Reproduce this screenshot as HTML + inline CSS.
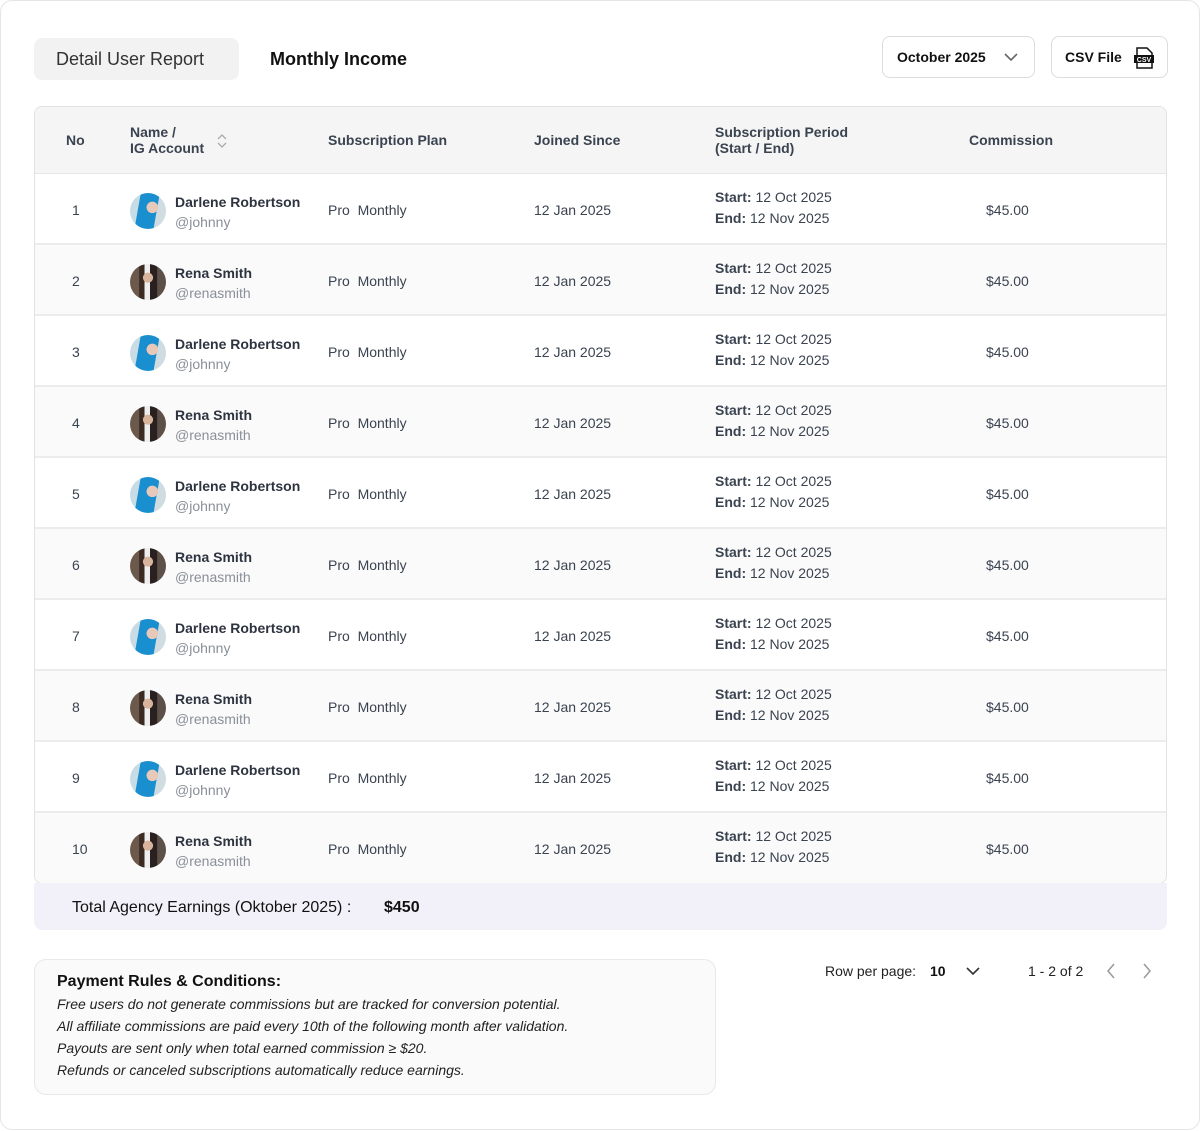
<!DOCTYPE html>
<html><head><meta charset="utf-8"><style>
*{margin:0;padding:0;box-sizing:border-box}
body{width:1200px;height:1131px;background:#fff;font-family:"Liberation Sans",sans-serif;color:#3a4350;position:relative;overflow:hidden}
.abs{position:absolute}
.outer{left:0;top:0;width:1200px;height:1130px;border:1px solid #e6e6e6;border-radius:12px}
.tab1{left:34px;top:38px;width:205px;height:42px;background:#f2f2f2;border-radius:8px;font-size:18px;color:#333;line-height:42px;padding-left:22px;font-weight:500}
.tab2{left:270px;top:38px;line-height:42px;font-size:18px;font-weight:bold;color:#111}
.btn{top:36px;height:42px;border:1px solid #dcdcdc;border-radius:8px;font-size:14px;font-weight:bold;color:#111;line-height:40px}
.card{left:34px;top:106px;width:1133px;height:778px;border:1px solid #e2e2e2;border-radius:8px;overflow:hidden}
.head{position:absolute;left:0;top:0;width:100%;height:67px;background:#f5f5f5;border-bottom:1px solid #e6e6e6;font-size:14px;font-weight:bold;color:#3a4350}
.row{position:absolute;left:0;width:100%;height:71px;border-bottom:2px solid #ececec;font-size:14px;color:#3a4350}
.row.g{background:#fafafa}
.c{position:absolute}
.p{position:absolute;left:680px;top:13px;line-height:21px}
.av{position:absolute;left:95px;top:19px;width:36px;height:36px;border-radius:50%}
.a1{background:radial-gradient(circle at 62% 40%,#e8c8b8 0 18%,transparent 19%),linear-gradient(100deg,#c8dce6 0 25%,#1a8fd0 26% 70%,#cfdde3 71%)}
.a2{background:radial-gradient(circle at 50% 38%,#d8b49c 0 17%,transparent 18%),linear-gradient(90deg,#6b5a4c 0 25%,#3a2a22 26% 40%,#eee 41% 55%,#2a2020 56% 75%,#5c5048 76%)}
.nm{position:absolute;left:140px;top:20px;font-weight:bold;color:#2d3440;font-size:14px}
.hd{position:absolute;left:140px;top:40px;color:#8a8f98;font-size:14px}
.total{left:34px;top:883px;width:1133px;height:47px;background:#f2f1fa;border-radius:0 0 8px 8px;font-size:16px;color:#111;line-height:49px;padding-left:38px}
.rules{left:34px;top:959px;width:682px;height:136px;background:#fafafa;border:1px solid #e8e8e8;border-radius:12px;padding:13px 22px}
.rules h4{font-size:16px;color:#111;margin-bottom:2px}
.rules p{font-size:14px;font-style:italic;color:#222;line-height:22px}
</style></head><body>
<div class="abs outer"></div>
<div class="abs tab1">Detail User Report</div>
<div class="abs tab2">Monthly Income</div>
<div class="abs btn" style="left:882px;width:153px;padding-left:14px">October 2025
<svg class="abs" style="left:121px;top:15px" width="14" height="10"><path d="M1 2l6 6 6-6" fill="none" stroke="#666" stroke-width="1.6"/></svg></div>
<div class="abs btn" style="left:1051px;width:117px;padding-left:13px">CSV File
<svg class="abs" style="left:81px;top:10px" width="22" height="22"><path d="M4 1h10l5 5v15H4z" fill="#fff" stroke="#111" stroke-width="1.5"/><rect x="1" y="8" width="20" height="8" fill="#111"/><text x="11" y="15" font-size="7" font-weight="bold" fill="#fff" text-anchor="middle" font-family="Liberation Sans">CSV</text></svg></div>

<div class="abs card">
<div class="head">
<div class="c" style="left:31px;top:25px">No</div>
<div class="c" style="left:95px;top:17px;line-height:16px">Name /<br>IG Account</div>
<svg class="c" style="left:181px;top:26px" width="12" height="16"><path d="M2 6l4-4 4 4M2 10l4 4 4-4" fill="none" stroke="#aaa" stroke-width="1.3"/></svg>
<div class="c" style="left:293px;top:25px">Subscription Plan</div>
<div class="c" style="left:499px;top:25px">Joined Since</div>
<div class="c" style="left:680px;top:17px;line-height:16px">Subscription Period<br>(Start / End)</div>
<div class="c" style="left:934px;top:25px">Commission</div>
</div>

<div class="row" style="top:67px"><div class="c" style="left:37px;top:28px">1</div><div class="av a1"></div><div class="nm">Darlene Robertson</div><div class="hd">@johnny</div><div class="c" style="left:293px;top:28px">Pro&nbsp; Monthly</div><div class="c" style="left:499px;top:28px">12 Jan 2025</div><div class="p"><b>Start:</b> 12 Oct 2025<br><b>End:</b> 12 Nov 2025</div><div class="c" style="left:951px;top:28px">$45.00</div></div>
<div class="row g" style="top:138px"><div class="c" style="left:37px;top:28px">2</div><div class="av a2"></div><div class="nm">Rena Smith</div><div class="hd">@renasmith</div><div class="c" style="left:293px;top:28px">Pro&nbsp; Monthly</div><div class="c" style="left:499px;top:28px">12 Jan 2025</div><div class="p"><b>Start:</b> 12 Oct 2025<br><b>End:</b> 12 Nov 2025</div><div class="c" style="left:951px;top:28px">$45.00</div></div>
<div class="row" style="top:209px"><div class="c" style="left:37px;top:28px">3</div><div class="av a1"></div><div class="nm">Darlene Robertson</div><div class="hd">@johnny</div><div class="c" style="left:293px;top:28px">Pro&nbsp; Monthly</div><div class="c" style="left:499px;top:28px">12 Jan 2025</div><div class="p"><b>Start:</b> 12 Oct 2025<br><b>End:</b> 12 Nov 2025</div><div class="c" style="left:951px;top:28px">$45.00</div></div>
<div class="row g" style="top:280px"><div class="c" style="left:37px;top:28px">4</div><div class="av a2"></div><div class="nm">Rena Smith</div><div class="hd">@renasmith</div><div class="c" style="left:293px;top:28px">Pro&nbsp; Monthly</div><div class="c" style="left:499px;top:28px">12 Jan 2025</div><div class="p"><b>Start:</b> 12 Oct 2025<br><b>End:</b> 12 Nov 2025</div><div class="c" style="left:951px;top:28px">$45.00</div></div>
<div class="row" style="top:351px"><div class="c" style="left:37px;top:28px">5</div><div class="av a1"></div><div class="nm">Darlene Robertson</div><div class="hd">@johnny</div><div class="c" style="left:293px;top:28px">Pro&nbsp; Monthly</div><div class="c" style="left:499px;top:28px">12 Jan 2025</div><div class="p"><b>Start:</b> 12 Oct 2025<br><b>End:</b> 12 Nov 2025</div><div class="c" style="left:951px;top:28px">$45.00</div></div>
<div class="row g" style="top:422px"><div class="c" style="left:37px;top:28px">6</div><div class="av a2"></div><div class="nm">Rena Smith</div><div class="hd">@renasmith</div><div class="c" style="left:293px;top:28px">Pro&nbsp; Monthly</div><div class="c" style="left:499px;top:28px">12 Jan 2025</div><div class="p"><b>Start:</b> 12 Oct 2025<br><b>End:</b> 12 Nov 2025</div><div class="c" style="left:951px;top:28px">$45.00</div></div>
<div class="row" style="top:493px"><div class="c" style="left:37px;top:28px">7</div><div class="av a1"></div><div class="nm">Darlene Robertson</div><div class="hd">@johnny</div><div class="c" style="left:293px;top:28px">Pro&nbsp; Monthly</div><div class="c" style="left:499px;top:28px">12 Jan 2025</div><div class="p"><b>Start:</b> 12 Oct 2025<br><b>End:</b> 12 Nov 2025</div><div class="c" style="left:951px;top:28px">$45.00</div></div>
<div class="row g" style="top:564px"><div class="c" style="left:37px;top:28px">8</div><div class="av a2"></div><div class="nm">Rena Smith</div><div class="hd">@renasmith</div><div class="c" style="left:293px;top:28px">Pro&nbsp; Monthly</div><div class="c" style="left:499px;top:28px">12 Jan 2025</div><div class="p"><b>Start:</b> 12 Oct 2025<br><b>End:</b> 12 Nov 2025</div><div class="c" style="left:951px;top:28px">$45.00</div></div>
<div class="row" style="top:635px"><div class="c" style="left:37px;top:28px">9</div><div class="av a1"></div><div class="nm">Darlene Robertson</div><div class="hd">@johnny</div><div class="c" style="left:293px;top:28px">Pro&nbsp; Monthly</div><div class="c" style="left:499px;top:28px">12 Jan 2025</div><div class="p"><b>Start:</b> 12 Oct 2025<br><b>End:</b> 12 Nov 2025</div><div class="c" style="left:951px;top:28px">$45.00</div></div>
<div class="row g" style="top:706px;border-bottom:none"><div class="c" style="left:37px;top:28px">10</div><div class="av a2"></div><div class="nm">Rena Smith</div><div class="hd">@renasmith</div><div class="c" style="left:293px;top:28px">Pro&nbsp; Monthly</div><div class="c" style="left:499px;top:28px">12 Jan 2025</div><div class="p"><b>Start:</b> 12 Oct 2025<br><b>End:</b> 12 Nov 2025</div><div class="c" style="left:951px;top:28px">$45.00</div></div>
</div>

<div class="abs total">Total Agency Earnings (Oktober 2025) :<b style="position:absolute;left:350px">$450</b></div>

<div class="abs rules"><h4>Payment Rules &amp; Conditions:</h4>
<p>Free users do not generate commissions but are tracked for conversion potential.</p>
<p>All affiliate commissions are paid every 10th of the following month after validation.</p>
<p>Payouts are sent only when total earned commission ≥ $20.</p>
<p>Refunds or canceled subscriptions automatically reduce earnings.</p></div>

<div class="abs" style="left:825px;top:963px;font-size:14px;color:#222">Row per page:</div>
<div class="abs" style="left:930px;top:963px;font-size:14px;font-weight:bold;color:#111">10</div>
<svg class="abs" style="left:966px;top:966px" width="14" height="10"><path d="M1 2l6 6 6-6" fill="none" stroke="#333" stroke-width="1.6"/></svg>
<div class="abs" style="left:1028px;top:963px;font-size:14px;color:#222">1 - 2 of 2</div>
<svg class="abs" style="left:1105px;top:963px" width="12" height="16"><path d="M9 1L3 8l6 7" fill="none" stroke="#999" stroke-width="1.5"/></svg>
<svg class="abs" style="left:1141px;top:963px" width="12" height="16"><path d="M3 1l6 7-6 7" fill="none" stroke="#999" stroke-width="1.5"/></svg>
</body></html>
